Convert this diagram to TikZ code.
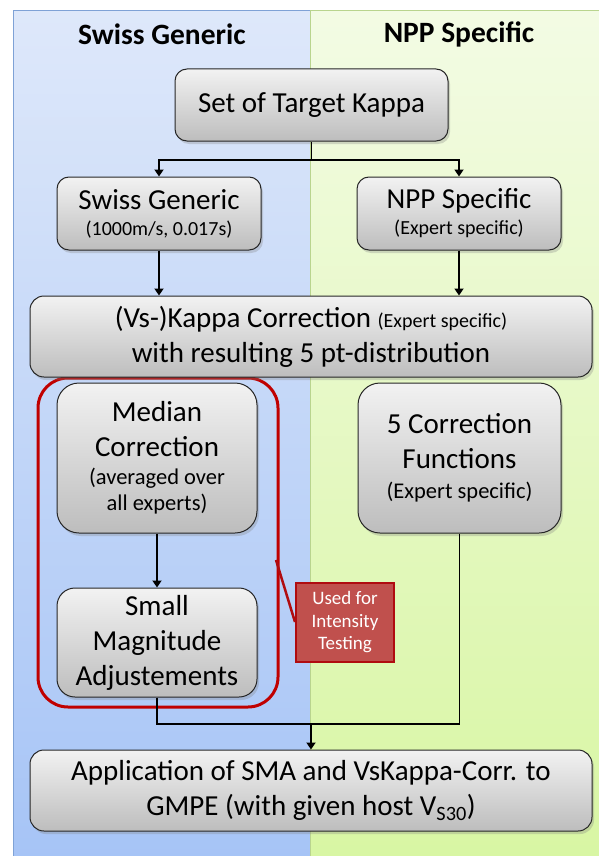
\documentclass[tikz,border=0pt]{standalone}
\usepackage{fontspec}
\setmainfont{Carlito}
\usetikzlibrary{arrows.meta,shadows}
\definecolor{bluetop}{HTML}{DEE8FA}
\definecolor{bluebot}{HTML}{A6C4F6}
\definecolor{blueedge}{HTML}{7FA2D6}
\definecolor{greentop}{HTML}{F3FBE4}
\definecolor{greenbot}{HTML}{D8F6A3}
\definecolor{greenedge}{HTML}{B9D48E}
\definecolor{boxtop}{HTML}{F2F2F2}
\definecolor{boxbot}{HTML}{BDBDBD}
\definecolor{boxedge}{HTML}{262626}
\definecolor{redline}{HTML}{C00000}
\definecolor{calloutfill}{HTML}{C0504D}
\definecolor{calloutedge}{HTML}{B00C10}
\newcommand{\mainsz}{\fontsize{29}{35}\selectfont\lineskiplimit=-60pt\relax}
\newcommand{\subsz}{\fontsize{22.5}{27}\selectfont}
\newcommand{\tinysz}{\fontsize{20}{24}\selectfont}
\tikzset{
  panel/.style={draw, line width=1pt, inner sep=0pt, anchor=north west},
  flowbox/.style={draw=boxedge, line width=1pt, top color=boxtop, bottom color=boxbot,
    align=center, inner sep=0pt, text=black, font=\mainsz,
    drop shadow={opacity=0.3, shadow xshift=2pt, shadow yshift=-3pt}},
  heading/.style={font=\fontsize{29.5}{34}\selectfont\bfseries, text=black},
  conn/.style={line width=1.8pt, black},
  arr/.style={conn, -{Triangle[width=9pt,length=7pt]}},
}
\begin{document}
\begin{tikzpicture}[x=1pt,y=-1pt]
\useasboundingbox (0,0) rectangle (598,856);
% panels
\node[panel, draw=blueedge, top color=bluetop, bottom color=bluebot,
      minimum width=297pt, minimum height=850pt] (bluepanel) at (13,10) {};
\node[panel, draw=greenedge, top color=greentop, bottom color=greenbot,
      minimum width=292pt, minimum height=850pt] (greenpanel) at (310,10) {};
% headings
\node[heading] (h1) at (162,34) {Swiss Generic};
\node[heading] (h2) at (459,34) {NPP Specific};
% red group outline
\draw[redline, line width=3pt, rounded corners=30pt] (38,378) rectangle (278,707);
% boxes
\node[flowbox, rounded corners=12pt, minimum width=273pt, minimum height=72pt] (target) at (311.5,105) {Set of Target Kappa};
\node[flowbox, rounded corners=12pt, minimum width=204pt, minimum height=73pt] (swiss) at (159,213.5)
  {Swiss Generic\\[-9pt]{\tinysz (1000m/s, 0.017s)}};
\node[flowbox, rounded corners=12pt, minimum width=204pt, minimum height=73pt] (npp) at (459,213.5)
  {NPP Specific\\[-9pt]{\tinysz (Expert specific)}};
\node[flowbox, rounded corners=14pt, minimum width=562pt, minimum height=81pt] (kappa) at (311,336.5)
  {(Vs-)Kappa Correction {\tinysz (Expert specific)}\\ with resulting 5 pt-distribution};
\node[flowbox, rounded corners=22pt, minimum width=200pt, minimum height=150pt] (median) at (157,458)
  {Median\\Correction\\[-7pt]{\subsz (averaged over}\\[-9pt]{\subsz all experts)}};
\node[flowbox, rounded corners=22pt, minimum width=203pt, minimum height=150pt] (corr) at (459.5,458)
  {5 Correction\\Functions\\[-5pt]{\subsz (Expert specific)}};
\node[flowbox, rounded corners=18pt, minimum width=200pt, minimum height=109pt] (small) at (157,642.5)
  {Small\\Magnitude\\Adjustements};
\node[flowbox, rounded corners=14pt, minimum width=562pt, minimum height=81pt] (app) at (311,790.5)
  {Application of SMA and VsKappa-Corr. to\\GMPE (with given host V\textsubscript{S30})};
% callout
\node[draw=calloutedge, fill=calloutfill, line width=2pt, text=white, align=center,
      minimum width=98pt, minimum height=79pt, inner sep=0pt,
      font=\fontsize{19}{22.5}\selectfont] (callout) at (345,622.5)
  {Used for\\Intensity\\Testing};
\coordinate (tip) at (276,560);
\draw[calloutedge, line width=2.5pt] (tip) -- (callout.west |- 0,622);
% connectors
\coordinate (split) at (311.5,160);
\coordinate (merge) at (311,724);
\draw[conn] (target.south) -- (split);
\draw[arr] (split) -| (swiss.north);
\draw[arr] (split) -| (npp.north);
\draw[arr] (swiss.south) -- (kappa.north -| swiss.south);
\draw[arr] (npp.south) -- (kappa.north -| npp.south);
\draw[arr] (median.south) -- (small.north);
\draw[conn] (small.south) |- (merge);
\draw[conn] (corr.south) |- (merge);
\draw[arr] (merge) -- (app.north);
\end{tikzpicture}
\end{document}
